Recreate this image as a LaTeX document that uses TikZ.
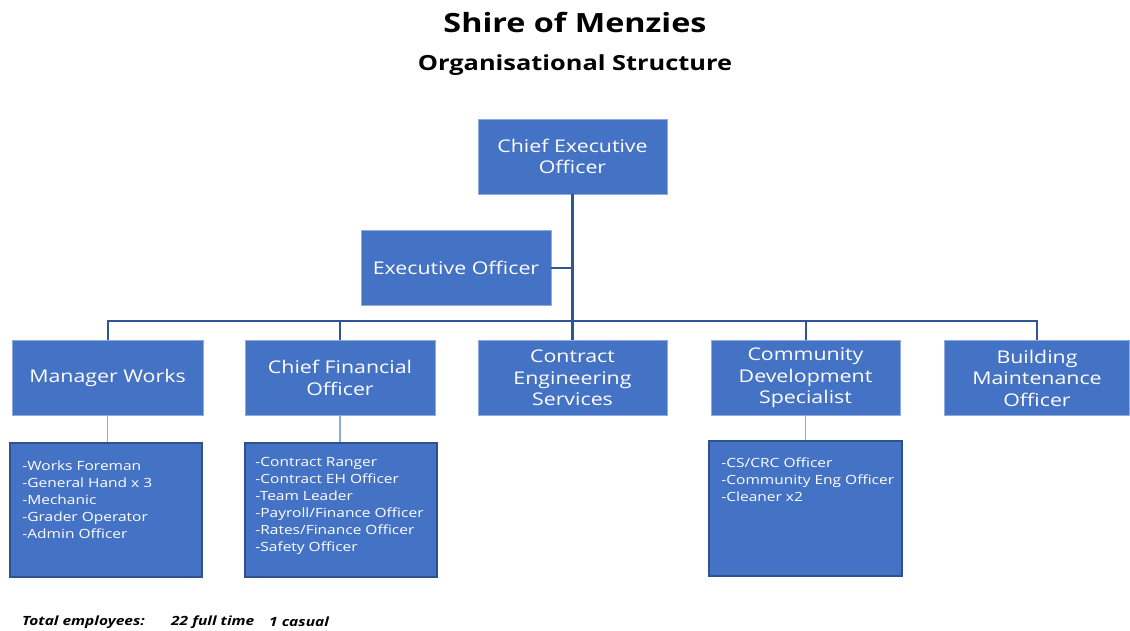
\documentclass[tikz,border=0pt]{standalone}
\usepackage{fontspec}
\setmainfont{Open Sans}[FakeStretch=1.22]
\usetikzlibrary{positioning, calc}

\definecolor{boxblue}{HTML}{4472C4}
\definecolor{edgeblue}{HTML}{2F528F}
\definecolor{lineblue}{HTML}{2F5597}
\definecolor{paleblue}{HTML}{8FAADC}

\begin{document}
\begin{tikzpicture}[
    x=1pt, y=-1pt,
    every node/.style={inner sep=0pt},
    post/.style={
        draw=paleblue,
        line width=0.8pt,
        fill=boxblue,
        minimum width=189pt,
        minimum height=75pt,
        text=white,
        font=\fontsize{17.5}{21.5}\selectfont,
        align=center
    },
    staffbox/.style={
        draw=edgeblue,
        line width=1.6pt,
        fill=boxblue,
        minimum width=192pt,
        minimum height=134pt
    },
    staff/.style={
        anchor=north west,
        text=white,
        font=\fontsize{12.7}{17}\selectfont,
        align=left
    },
    trunk/.style={draw=lineblue, line width=2.4pt},
    branch/.style={draw=lineblue, line width=2pt},
    twig/.style={draw=paleblue, line width=1.3pt}
]
    \useasboundingbox (0,0) rectangle (1130,630);

    % Titles
    \node (title) at (575,22) {\fontsize{26.5}{30}\selectfont\bfseries Shire of Menzies};
    \node (subtitle) at (575,65) {\fontsize{20.8}{24}\selectfont\bfseries Organisational Structure};

    % Posts
    \node[post] (ceo) at (572.5,156.5) {Chief Executive\\Officer};
    \node[post, minimum width=190pt] (eo) at (456,267.5) {Executive Officer};
    \node[post, minimum width=191pt] (mw) at (107.5,378) {Manager Works};
    \node[post, minimum width=190pt] (cfo) at (340,378) {Chief Financial\\Officer};
    \node[post] (ces) at (572.5,378) {Contract\\Engineering\\Services};
    \node[post] (cds) at (805.5,378) {Community\\Development\\Specialist};
    \node[post, minimum width=185pt] (bmo) at (1037,378) {Building\\Maintenance\\Officer};

    % Staff boxes
    \node[staffbox] (mwstaff) at (106,510) {};
    \node[staffbox] (cfostaff) at (341,510) {};
    \node[staffbox, minimum width=193pt, minimum height=135pt] (cdsstaff) at (805.5,508.5) {};

    \node[staff] (mwlist) at ($(mwstaff.north west)+(13,18)$)
        {-Works Foreman\\-General Hand x 3\\-Mechanic\\-Grader Operator\\-Admin Officer};
    \node[staff] (cfolist) at ($(cfostaff.north west)+(11,15)$)
        {-Contract Ranger\\-Contract EH Officer\\-Team Leader\\-Payroll/Finance Officer\\-Rates/Finance Officer\\-Safety Officer};
    \node[staff] (cdslist) at ($(cdsstaff.north west)+(13,17)$)
        {-CS/CRC Officer\\-Community Eng Officer\\-Cleaner x2};

    % Connectors
    \coordinate (bus) at (572.5,321);
    \draw[trunk] (ceo.south) -- (ces.north);
    \draw[branch] (eo.east) -- (eo.east -| ceo.south);
    \draw[branch] (mw.north) |- (bus) -| (bmo.north);
    \draw[branch] (cfo.north) -- (cfo.north |- bus);
    \draw[branch] (cds.north) -- (cds.north |- bus);

    \draw[twig] (mw.south) -- (mw.south |- mwstaff.north);
    \draw[twig] (cfo.south) -- (cfo.south |- cfostaff.north);
    \draw[twig] (cds.south) -- (cds.south |- cdsstaff.north);

    % Footer
    \node[anchor=west, font=\fontsize{12.7}{15}\selectfont\bfseries\itshape] (total) at (22,622) {Total employees:};
    \node[anchor=west, font=\fontsize{12.7}{15}\selectfont\bfseries\itshape] (fulltime) at (171,622) {22 full time};
    \node[anchor=west, font=\fontsize{12.7}{15}\selectfont\bfseries\itshape] (casual) at (269,622) {1 casual};

\end{tikzpicture}
\end{document}
